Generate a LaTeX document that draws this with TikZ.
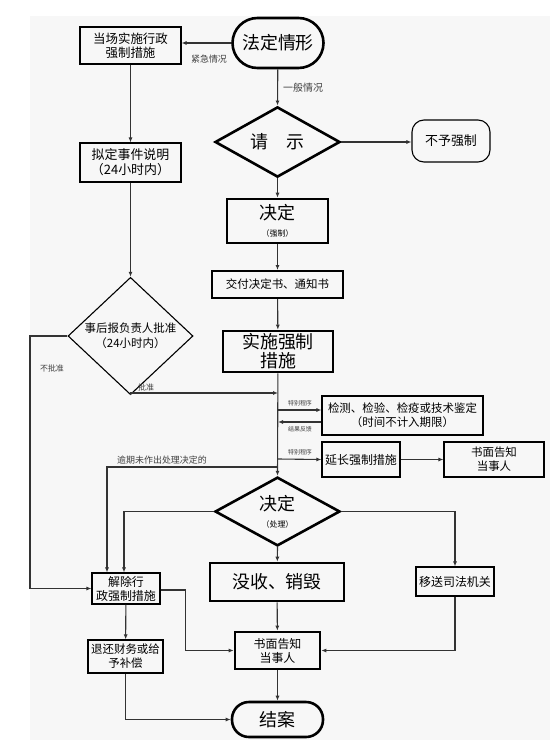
\documentclass[tikz,border=0pt]{standalone}
\usepackage{fontspec}
\newfontfamily\cjk{Noto Sans CJK SC}
\usetikzlibrary{shapes.geometric,arrows.meta,calc}

\begin{document}
\begin{tikzpicture}[x=1bp, y=-1bp,
  every node/.style = {align=center, inner sep=1bp, font=\cjk},
  thinbox/.style = {shape=rectangle, draw, line width=1.1bp},
  thickbox/.style = {shape=rectangle, draw, line width=2.6bp},
  stadium/.style = {thickbox, rounded corners=#1},
  decision/.style = {shape=diamond, draw, inner sep=0pt},
  big/.style = {font=\cjk\fontsize{18}{20}\selectfont},
  mid/.style = {font=\cjk\fontsize{12}{14}\selectfont},
  lbl/.style = {font=\cjk\fontsize{8}{9}\selectfont, text=black!75},
  tiny/.style = {font=\cjk\fontsize{6}{7}\selectfont, text=black!75},
  line/.style = {draw=black!80, line width=1.1bp},
  arr/.style = {line, -{Latex[length=5bp,width=4bp]}}]
  \useasboundingbox (0,0) rectangle (550,754);
  \fill[black!3] (30,16) rectangle (550,740);

  % nodes
  \node[stadium=25bp, big, minimum width=91bp, minimum height=50bp] (fading) at (278,43) {法定情形};
  \node[thinbox, font=\cjk\fontsize{12.5}{14}\selectfont, minimum width=101bp, minimum height=37bp] (dangchang) at (130.5,45.5) {当场实施行政\\强制措施};
  \node[decision, thickbox, shape=diamond, big, minimum width=125bp, minimum height=63bp] (qingshi) at (277.5,142) {请\hspace{1em}示};
  \node[thinbox, rounded corners=12bp, font=\cjk\fontsize{13}{14}\selectfont, minimum width=78bp, minimum height=42bp] (buyu) at (451,141) {不予强制};
  \node[thinbox, font=\cjk\fontsize{13}{15}\selectfont, minimum width=101bp, minimum height=39bp] (niding) at (130.5,162.5) {拟定事件说明\\（24小时内）};
  \node[thickbox, big, minimum width=101bp, minimum height=44bp] (jueding1) at (277.5,221) {决定\\[-3bp]{\fontsize{8}{9}\selectfont（强制）}};
  \node[thickbox, line width=2bp, font=\cjk\fontsize{11.5}{13}\selectfont, minimum width=131bp, minimum height=27bp] (jiaofu) at (277.5,284.5) {交付决定书、通知书};
  \node[decision, thinbox, shape=diamond, font=\cjk\fontsize{11.5}{15}\selectfont, minimum width=125bp, minimum height=85bp] (shihou) at (130.5,336) {事后报负责人批准\\（24小时内）};
  \node[thickbox, font=\cjk\fontsize{18}{19}\selectfont, minimum width=110bp, minimum height=41bp] (shishi) at (278,351.5) {实施强制\\措施};
  \node[thinbox, font=\cjk\fontsize{11.5}{14}\selectfont, minimum width=161bp, minimum height=39bp] (jiance) at (402.5,415.5) {检测、检验、检疫或技术鉴定\\（时间不计入期限）};
  \node[thinbox, mid, minimum width=78bp, minimum height=35bp] (yanchang) at (361,459.5) {延长强制措施};
  \node[thinbox, font=\cjk\fontsize{11.5}{14}\selectfont, minimum width=100bp, minimum height=35bp] (gaozhi1) at (494,459.5) {书面告知\\当事人};
  \node[decision, thickbox, shape=diamond, big, minimum width=125bp, minimum height=63bp] (jueding2) at (277.5,511.5) {决定\\[-3bp]{\fontsize{8}{9}\selectfont（处理）}};
  \node[thickbox, big, minimum width=134bp, minimum height=38bp] (moshou) at (277,582) {没收、销毁};
  \node[thinbox, mid, minimum width=78bp, minimum height=29bp] (yisong) at (455,581.5) {移送司法机关};
  \node[thinbox, mid, minimum width=68bp, minimum height=31bp, inner sep=0pt] (jiechu) at (126,588.5) {解除行\\政强制措施};
  \node[thickbox, mid, minimum width=85bp, minimum height=37bp] (gaozhi2) at (277.5,650.5) {书面告知\\当事人};
  \node[thinbox, font=\cjk\fontsize{11.5}{14}\selectfont, minimum width=75bp, minimum height=33bp] (tuihuan) at (125.5,656.5) {退还财务或给\\予补偿};
  \node[stadium=17bp, big, minimum width=91bp, minimum height=35bp] (jiean) at (277.5,719.5) {结案};

  % points on the main line
  \coordinate (pizhun) at (278,393);
  \coordinate (nopass) at (30,336);
  \coordinate (tebie1) at (278,410);
  \coordinate (fankui) at (278,422);
  \coordinate (tebie2) at (278,459);
  \coordinate (yuqi) at (278,467);

  % connectors
  \draw[arr] (fading.west) -- (dangchang.east |- fading.west);
  \draw[arr] (fading) -- (qingshi.north);
  \draw[arr] (qingshi.east) -- (buyu.west |- qingshi.east);
  \draw[arr] (qingshi) -- (jueding1);
  \draw[arr] (jueding1) -- (jiaofu);
  \draw[arr] (jiaofu) -- (shishi);
  \draw[arr] (dangchang) -- (niding);
  \draw[arr] (niding) -- (shihou.north);
  \draw[arr] (shihou.west) -- (nopass) |- (jiechu.west);
  \draw[arr] (shihou.south) |- (pizhun);
  \draw[arr] (shishi) -- (jueding2.north);
  \draw[arr] (tebie1) -- (tebie1 -| jiance.west);
  \draw[arr] (fankui -| jiance.west) -- (fankui);
  \draw[arr] (tebie2) -- (yanchang.west);
  \draw[arr] (yanchang) -- (gaozhi1);
  \draw[arr] (yuqi) -| ([xshift=-19bp]jiechu.north);
  \draw[arr] (jueding2.west) -| ([xshift=-2bp]jiechu.north);
  \draw[arr] (jueding2.east) -| (yisong.north);
  \draw[arr] (jueding2.south) -- (moshou);
  \draw[arr] ([yshift=-1.5bp]jiechu.east) -- ++(25,0) |- (gaozhi2.west);
  \draw[arr] (moshou) -- (gaozhi2);
  \draw[arr] (yisong.south) |- (gaozhi2.east);
  \draw[arr] (jiechu) -- (tuihuan);
  \draw[arr] (tuihuan.south) |- (jiean.west);
  \draw[arr] (gaozhi2) -- (jiean);

  % labels
  \node[lbl, font=\cjk\fontsize{9}{10}\selectfont] (jinji) at (209,59) {紧急情况};
  \node[lbl, font=\cjk\fontsize{10}{11}\selectfont, anchor=west] (yiban) at (282,88) {一般情况};
  \node[lbl] (bupizhun) at (52,368) {不批准};
  \node[lbl] (pizhunlbl) at (146,387) {批准};
  \node[tiny] (tebielbl1) at (300,403) {特别程序};
  \node[tiny] (fankuilbl) at (300,429) {结果反馈};
  \node[tiny] (tebielbl2) at (300,452) {特别程序};
  \node[lbl, font=\cjk\fontsize{9}{10}\selectfont] (yuqilbl) at (162,460) {逾期未作出处理决定的};
\end{tikzpicture}
\end{document}
